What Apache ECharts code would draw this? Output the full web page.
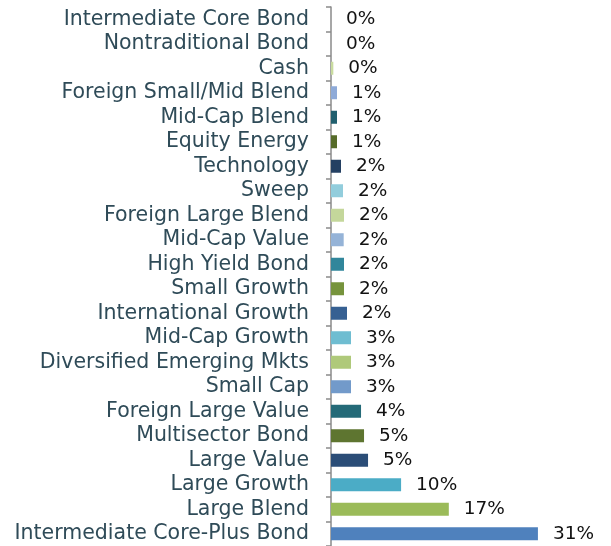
<!DOCTYPE html>
<html>
<head>
<meta charset="utf-8">
<script src="https://cdn.jsdelivr.net/npm/echarts@6/dist/echarts.min.js"></script>
<style>
html,body{margin:0;padding:0;background:#fff;}
#chart{width:611px;height:546px;}
</style>
</head>
<body>
<div id="chart"></div>
<script>
const categories = [
  "Intermediate Core Bond","Nontraditional Bond","Cash","Foreign Small/Mid Blend",
  "Mid-Cap Blend","Equity Energy","Technology","Sweep","Foreign Large Blend",
  "Mid-Cap Value","High Yield Bond","Small Growth","International Growth",
  "Mid-Cap Growth","Diversified Emerging Mkts","Small Cap","Foreign Large Value",
  "Multisector Bond","Large Value","Large Growth","Large Blend","Intermediate Core-Plus Bond"
];
const values = [0, 0, 0.35, 0.9, 0.9, 0.9, 1.5, 1.8, 1.95, 1.9, 1.95, 1.95, 2.4,
  3.0, 3.0, 3.0, 4.5, 4.95, 5.55, 10.5, 17.65, 31.0];
const valueLabels = ["0%","0%","0%","1%","1%","1%","2%","2%","2%","2%","2%","2%","2%",
  "3%","3%","3%","4%","5%","5%","10%","17%","31%"];
const barColors = ["#4F81BD","#4F81BD","#C9DB9F","#8EAAD8","#215F6E","#566B29","#244062",
  "#92CDDC","#C4D79B","#95B3D7","#31869B","#76933C","#366092","#6FBDD1","#AFC97A",
  "#729ACA","#246A78","#5E7530","#2B4D77","#4BACC6","#9BBB59","#4F81BD"];

const chart = echarts.init(document.getElementById('chart'), null, {renderer: 'canvas'});
chart.setOption({
  animation: false,
  grid: {left: 331, top: 7, width: 267, height: 541, containLabel: false},
  xAxis: {
    type: 'value', min: 0, max: 40, show: false
  },
  yAxis: {
    type: 'category',
    data: categories,
    inverse: true,
    offset: 1,
    axisLine: {show: true, lineStyle: {color: '#8a8a8a', width: 1.5}},
    axisTick: {show: true, interval: 0, length: 5, lineStyle: {color: '#8a8a8a', width: 1.5}},
    axisLabel: {
      interval: 0,
      hideOverlap: false,
      margin: 21,
      color: '#2F4B58',
      fontFamily: 'DejaVu Sans',
      fontSize: 20.5
    }
  },
  series: [{
    type: 'bar',
    barWidth: 13,
    data: values.map((v, i) => ({value: v, itemStyle: {color: barColors[i]}})),
    label: {
      show: true,
      position: 'right',
      distance: 15,
      color: '#111',
      fontFamily: 'DejaVu Sans',
      fontSize: 18.5,
      formatter: p => valueLabels[p.dataIndex]
    }
  }]
});
</script>
</body>
</html>
